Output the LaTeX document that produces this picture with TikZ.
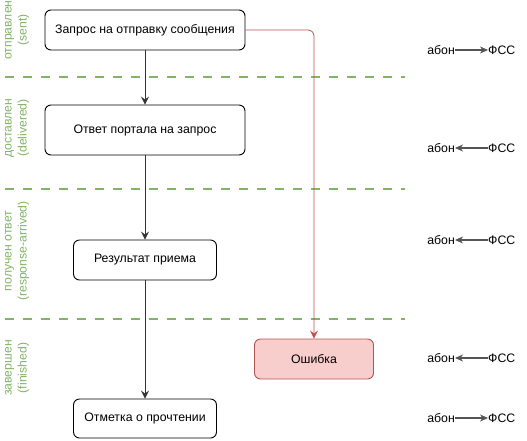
\documentclass[tikz,border=0pt]{standalone}
\usepackage{fontspec}
\setmainfont{Liberation Sans}
\usetikzlibrary{arrows.meta}
\definecolor{lanegreen}{HTML}{82B366}
\definecolor{errfill}{HTML}{F8CECC}
\definecolor{errline}{HTML}{B85450}
\definecolor{arrgray}{HTML}{555555}
\begin{document}
\begin{tikzpicture}[x=1pt,y=-1pt,
  stepbox/.style={draw=black,line width=0.9pt,rounded corners=6pt,fill=white,inner sep=0pt,font=\fontsize{12.3}{14}\selectfont},
  errbox/.style={stepbox,draw=errline,fill=errfill},
  lanelbl/.style={rotate=90,text=lanegreen,align=center,font=\fontsize{12.2}{15}\selectfont,inner sep=0pt},
  sep/.style={draw=lanegreen,line width=2.6pt,dash pattern=on 9pt off 9pt},
  flow/.style={draw=black!80,line width=0.9pt,-{Stealth[length=8pt,width=8pt,inset=3pt]}},
  errflow/.style={draw=errline,line width=0.8pt,rounded corners=6pt,-{Stealth[length=8pt,width=8pt,inset=3pt]}},
  side/.style={inner sep=0pt,font=\fontsize{12.3}{14}\selectfont},
  dir/.style={draw=arrgray,line width=1.1pt,-{Stealth[length=8pt,width=7pt,inset=2.5pt]}}
]
\useasboundingbox (0,0) rectangle (527,440);
% separators
\coordinate (s1a) at (5,77); \coordinate (s1b) at (405,77);
\coordinate (s2a) at (5,189); \coordinate (s2b) at (405,189);
\coordinate (s3a) at (5,319); \coordinate (s3b) at (405,319);
\draw[sep] (s1a) -- (s1b);
\draw[sep] (s2a) -- (s2b);
\draw[sep] (s3a) -- (s3b);
% lane labels
\node[lanelbl] (l1) at (17,30) {отправлен\\(sent)};
\node[lanelbl] (l2) at (17,128) {доставлен\\(delivered)};
\node[lanelbl] (l3) at (17,251) {получен ответ\\(response-arrived)};
\node[lanelbl] (l4) at (17,368) {завершен\\(finished)};
% boxes
\node[stepbox,minimum width=200pt,minimum height=40pt] (b1) at (145,30) {Запрос на отправку сообщения};
\node[stepbox,minimum width=200pt,minimum height=50pt] (b2) at (145,130) {Ответ портала на запрос};
\node[stepbox,minimum width=143pt,minimum height=40pt] (b3) at (145,260) {Результат приема};
\node[stepbox,minimum width=143pt,minimum height=39pt] (b4) at (145,418.5) {Отметка о прочтении};
\node[errbox,minimum width=119pt,minimum height=40pt] (err) at (314,359) {Ошибка};
% flows
\draw[flow] (b1) -- (b2);
\draw[flow] (b2) -- (b3);
\draw[flow] (b3) -- (b4);
\draw[errflow] (b1.east) -| (err.north);
% side direction labels
\foreach \i/\y in {1/50,2/148,3/240,4/358,5/418}{
  \node[side,anchor=east] (a\i) at (455,\y) {абон};
  \node[side,anchor=west] (f\i) at (488,\y) {ФСС};
}
\draw[dir] (a1.east) -- (f1.west);
\draw[dir] (f2.west) -- (a2.east);
\draw[dir] (f3.west) -- (a3.east);
\draw[dir] (f4.west) -- (a4.east);
\draw[dir] (a5.east) -- (f5.west);
\end{tikzpicture}
\end{document}
